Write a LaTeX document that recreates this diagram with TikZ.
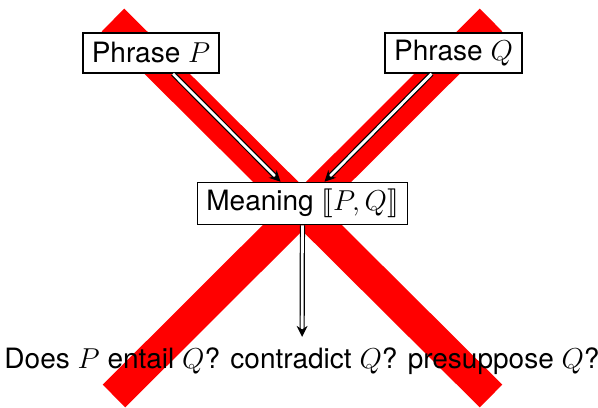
\documentclass[tikz,border=0pt]{standalone}
\usepackage{fontspec}
\setmainfont{TeX Gyre Heros}
\usepackage{stmaryrd}
\usetikzlibrary{arrows.meta,positioning}

\begin{document}
\begin{tikzpicture}[
    x=0.5pt, y=-0.5pt,
    box/.style={draw, line width=0.75pt, fill=white, minimum height=20pt, inner xsep=4.5pt, font=\fontsize{14}{16}\selectfont},
    arr/.style={double, double distance=1.4pt, line width=0.6pt, -{Stealth[length=5.5pt,width=5.5pt,inset=1.8pt]}},
    cross/.style={draw=red, line width=16pt, line cap=butt},
    question/.style={inner xsep=0pt, inner ysep=5pt, anchor=base, font=\fontsize{14}{16}\selectfont},
]

\useasboundingbox (0,0) rectangle (598,407);

% Big red cross behind everything
\draw[cross] (113,20) -- (491,396);
\draw[cross] (491,20) -- (114,396);

% Boxes
\node[box] (p) at (151,53) {Phrase $P$};
\node[box] (q) at (453.5,53) {Phrase $Q$};
\node[box] (m) at (302.5,203.5) {Meaning $\llbracket P, Q\rrbracket$};

\node[question] (ask) at (302,368) {Does $P$ entail $Q$? contradict $Q$? presuppose $Q$?};

% Arrows
\draw[arr] ([xshift=11pt]p.south) -- ([xshift=-11pt]m.north);
\draw[arr] ([xshift=-11pt]q.south) -- ([xshift=11pt]m.north);
\draw[arr] (m) -- (ask);

\end{tikzpicture}
\end{document}
